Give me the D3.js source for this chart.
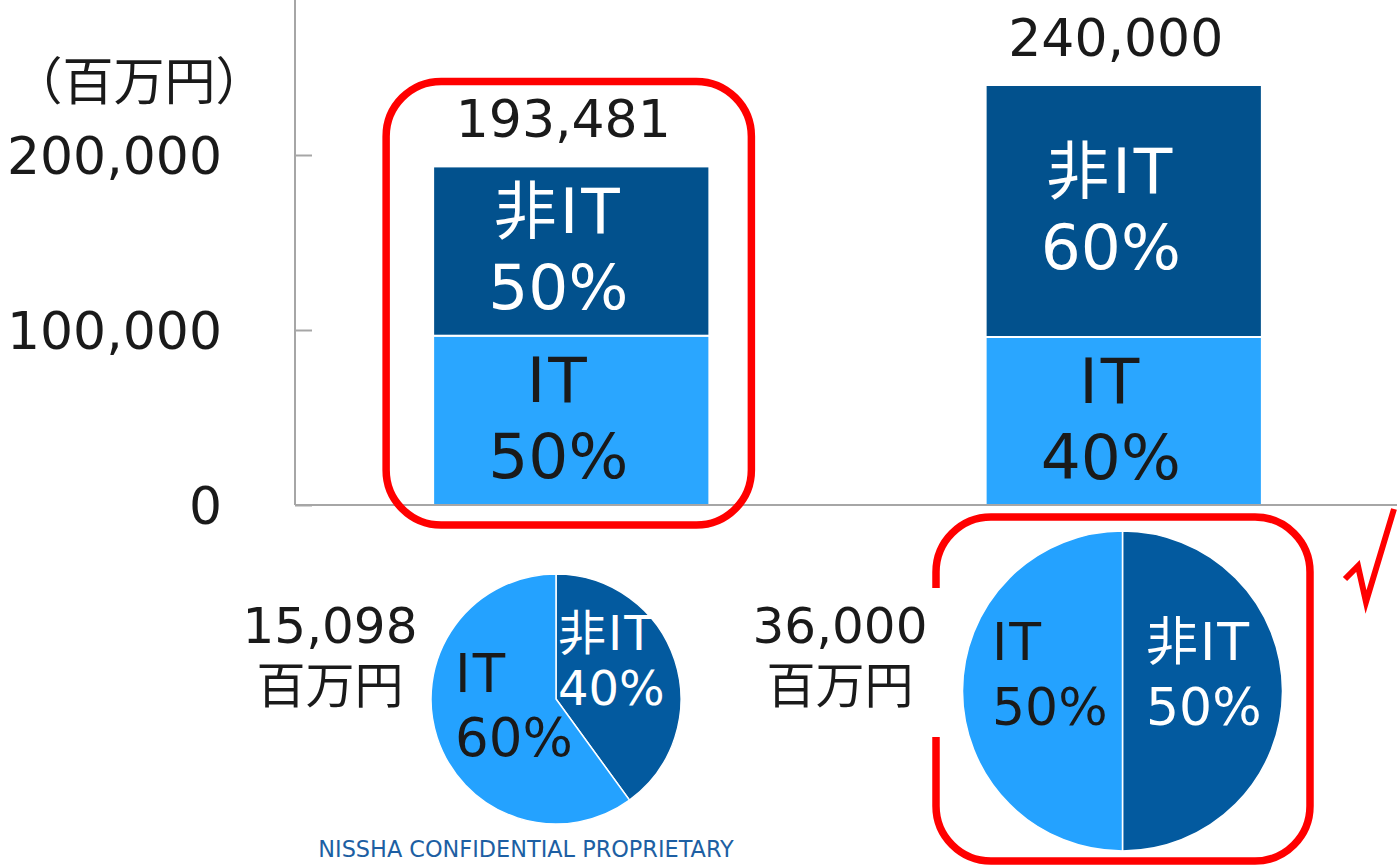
<!DOCTYPE html>
<html>
<head>
<meta charset="utf-8">
<script src="https://cdn.jsdelivr.net/npm/d3@7"></script>
<style>
  body { margin: 0; background: #fff; }
  text { font-family: "DejaVu Sans", "Noto Sans CJK JP", sans-serif; }
  .cjk { font-family: "Noto Sans CJK JP", sans-serif; font-feature-settings: "halt"; }
</style>
</head>
<body>
<script>
// Bar data (百万円)
const categories = ['現状', '目標'];
const totals = [193481, 240000];
const itShare = [50, 40];
const nonItShare = [50, 60];
const yTicks = [0, 100000, 200000];

// Pie data
const pieTotals = [15098, 36000];
const pieItShare = [60, 50];
const pieNonItShare = [40, 50];

const width = 1397, height = 865;
const colors = { barDark: '#02518d', barLight: '#2aa6ff', pieDark: '#035a9f', pieLight: '#24a2ff' };
const ink = '#1a1a1a';

const svg = d3.select('body').append('svg')
  .attr('width', width)
  .attr('height', height);

// Scales
const axisX = 295;
const x = d3.scaleBand()
  .domain(categories)
  .range([axisX, 1400])
  .paddingInner(0.5)
  .paddingOuter(0.25);

const y = d3.scaleLinear()
  .domain([0, 200000])
  .range([505, 155]);

// Build stacked rows from the arrays
const rows = categories.map((c, i) => ({
  cat: c,
  total: totals[i],
  it: totals[i] * itShare[i] / 100,
  nonIt: totals[i] * nonItShare[i] / 100,
  itPct: itShare[i],
  nonItPct: nonItShare[i]
}));
const stack = d3.stack().keys(['it', 'nonIt'])(rows);

// Bars
const bars = svg.append('g');
stack.forEach(layer => {
  bars.selectAll(null)
    .data(layer)
    .join('rect')
    .attr('x', d => x(d.data.cat))
    .attr('y', d => y(d[1]))
    .attr('width', x.bandwidth())
    .attr('height', d => y(d[0]) - y(d[1]))
    .attr('fill', layer.key === 'it' ? colors.barLight : colors.barDark)
    .attr('stroke', '#fff')
    .attr('stroke-width', 2);
});

// Segment labels
stack.forEach(layer => {
  const dark = layer.key === 'nonIt';
  layer.forEach(d => {
    const cx = x(d.data.cat) + x.bandwidth() / 2 - 13;
    const cy = (y(d[0]) + y(d[1])) / 2;
    const t = svg.append('text')
      .attr('text-anchor', 'middle')
      .attr('font-size', 63)
      .attr('fill', dark ? '#fff' : ink);
    t.append('tspan').attr('x', cx).attr('y', cy - 18).attr('letter-spacing', 3).text(dark ? '非IT' : 'IT');
    t.append('tspan').attr('x', cx).attr('y', cy + 58)
      .text((dark ? d.data.nonItPct : d.data.itPct) + '%');
  });
});

// Total labels
svg.selectAll('.total')
  .data(rows)
  .join('text')
  .attr('class', 'total')
  .attr('x', d => x(d.cat) + x.bandwidth() / 2 - 8)
  .attr('y', d => y(d.total) - 29)
  .attr('text-anchor', 'middle')
  .attr('font-size', 52)
  .attr('fill', ink)
  .text(d => d3.format(',')(d.total));

// Y axis
const yAxis = svg.append('g')
  .attr('transform', `translate(${axisX},0)`)
  .call(d3.axisLeft(y)
    .tickValues(yTicks)
    .tickFormat(d3.format(','))
    .tickSizeInner(-17)
    .tickSizeOuter(0)
    .tickPadding(73));
yAxis.select('.domain').remove();
yAxis.selectAll('line').attr('stroke', '#a6a6a6').attr('stroke-width', 2);
yAxis.selectAll('text')
  .attr('font-size', 52)
  .attr('fill', ink)
  .attr('dy', '0.35em')
  .style('font-family', '"DejaVu Sans", sans-serif');

svg.append('line')
  .attr('x1', axisX).attr('x2', axisX)
  .attr('y1', 0).attr('y2', y(0))
  .attr('stroke', '#a6a6a6').attr('stroke-width', 2);
svg.append('line')
  .attr('x1', axisX).attr('x2', width)
  .attr('y1', y(0)).attr('y2', y(0))
  .attr('stroke', '#a6a6a6').attr('stroke-width', 2);

svg.append('text')
  .attr('class', 'cjk')
  .attr('x', 241).attr('y', 100)
  .attr('text-anchor', 'end')
  .attr('font-size', 51)
  .attr('fill', ink)
  .text('（百万円）');

// Pies
const pieLayout = [
  { cx: 556, cy: 699, r: 125, labelX: 330 },
  { cx: 1122.5, cy: 691, r: 160, labelX: 840 }
];
const pie = d3.pie().sort(null).value(d => d.v);

// Red highlight frames
const frames = svg.append('g')
  .attr('fill', 'none')
  .attr('stroke', '#ff0000')
  .attr('stroke-width', 7.5);
const b0 = x(categories[0]);
frames.append('rect')
  .attr('x', b0 - 47).attr('y', y(totals[0]) - 85)
  .attr('width', x.bandwidth() + 89).attr('height', y(0) + 20 - (y(totals[0]) - 85))
  .attr('rx', 55).attr('ry', 55);
const p1 = pieLayout[1];
frames.append('rect')
  .attr('x', p1.cx - 186.5).attr('y', p1.cy - 174)
  .attr('width', 374).attr('height', 344)
  .attr('rx', 55).attr('ry', 55);
// gap in the frame where the side label sits
svg.append('rect')
  .attr('x', p1.cx - 193).attr('y', p1.cy - 103)
  .attr('width', 14).attr('height', 149)
  .attr('fill', '#fff');

// Check mark
svg.append('polyline')
  .attr('points', [[1345, 579], [1358, 566], [1366, 602], [1394, 509]].join(' '))
  .attr('fill', 'none')
  .attr('stroke', '#ff0000')
  .attr('stroke-width', 6)
  .attr('stroke-linejoin', 'miter');

pieTotals.forEach((total, i) => {
  const L = pieLayout[i];
  const slices = pie([
    { key: 'nonIt', v: pieNonItShare[i] },
    { key: 'it', v: pieItShare[i] }
  ]);
  const arc = d3.arc().innerRadius(0).outerRadius(L.r);
  const g = svg.append('g').attr('transform', `translate(${L.cx},${L.cy})`);
  g.selectAll('path')
    .data(slices)
    .join('path')
    .attr('d', arc)
    .attr('fill', d => d.data.key === 'it' ? colors.pieLight : colors.pieDark)
    .attr('stroke', '#fff')
    .attr('stroke-width', 1.5);

  // slice labels
  const small = i === 0;
  const spec = small
    ? [
        { key: 'nonIt', dx: 2, y1: -49, y2: 6, size: 48 },
        { key: 'it', dx: -101, y1: -7, y2: 57, size: 53 }
      ]
    : [
        { key: 'nonIt', dx: 23.5, y1: -31, y2: 34, size: 52 },
        { key: 'it', dx: -130.5, y1: -31, y2: 34, size: 52 }
      ];
  spec.forEach(s => {
    const dark = s.key === 'nonIt';
    const t = g.append('text')
      .attr('font-size', s.size)
      .attr('fill', dark ? '#fff' : ink);
    t.append('tspan').attr('x', s.dx).attr('y', s.y1).attr('letter-spacing', 2).text(dark ? '非IT' : 'IT');
    t.append('tspan').attr('x', s.dx).attr('y', s.y2)
      .text((dark ? pieNonItShare[i] : pieItShare[i]) + '%');
  });

  // amount to the left of the pie
  svg.append('text')
    .attr('x', L.labelX).attr('y', 643)
    .attr('text-anchor', 'middle')
    .attr('font-size', 50)
    .attr('fill', ink)
    .text(d3.format(',')(total));
  svg.append('text')
    .attr('class', 'cjk')
    .attr('x', L.labelX).attr('y', 703)
    .attr('text-anchor', 'middle')
    .attr('font-size', 49)
    .attr('fill', ink)
    .text('百万円');
});

// Footer
svg.append('text')
  .attr('x', 526).attr('y', 857)
  .attr('text-anchor', 'middle')
  .attr('font-size', 22.4)
  .attr('fill', '#1d5fa3')
  .text('NISSHA CONFIDENTIAL PROPRIETARY');
</script>
</body>
</html>
